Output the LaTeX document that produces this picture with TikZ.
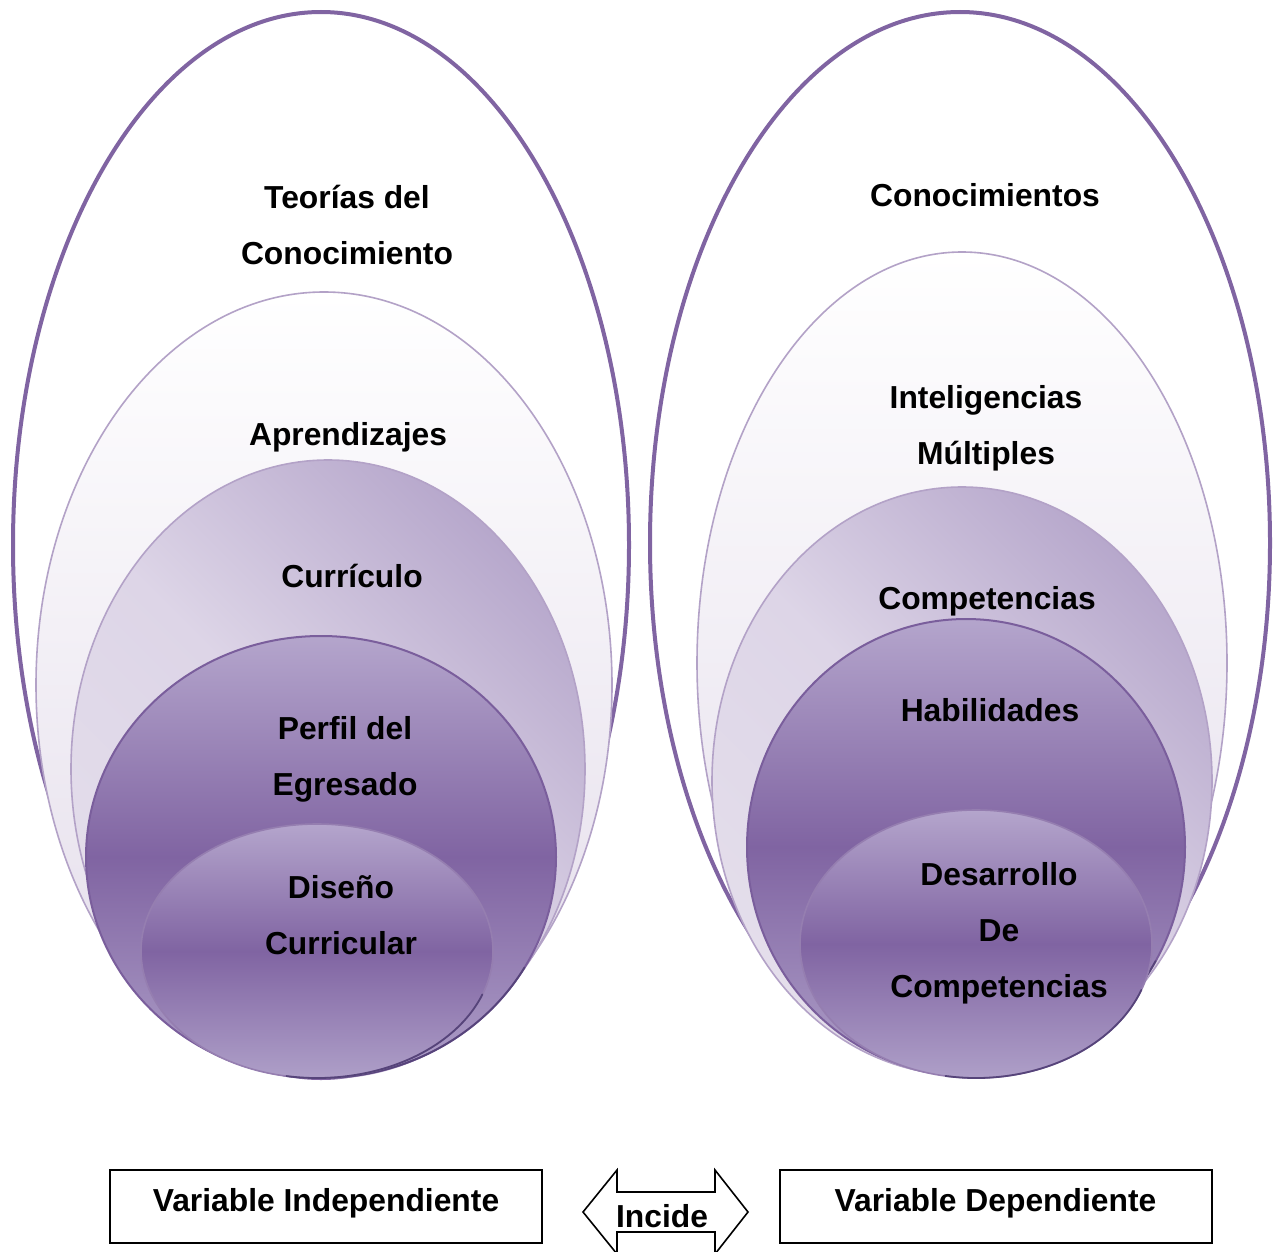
\documentclass[tikz,border=0pt]{standalone}
\usepackage{fontspec}
\setmainfont{Liberation Sans}
\definecolor{vio}{HTML}{8064A2}
\definecolor{vio_line}{HTML}{B3A2C7}
\definecolor{vio_edge}{HTML}{7A5E9C}
\definecolor{vio_rim}{HTML}{56447A}
\definecolor{lav_a}{HTML}{E3DCEA}
\definecolor{lav_b}{HTML}{E4DEEB}
\definecolor{lav_m}{HTML}{DDD5E7}
\definecolor{lav_c}{HTML}{B7A8CC}
\definecolor{vio_top}{HTML}{B4A5CC}
\definecolor{vio_bot}{HTML}{AE9FC8}
\tikzset{
  lbl/.style = {align=center, inner sep=0pt, font=\bfseries\fontsize{15.9}{28}\selectfont},
  ell_a/.style = {draw=vio, line width=2pt, fill=white},
  ell_b/.style = {draw=vio_line, line width=0.8pt, top color=white, bottom color=lav_a},
  ell_c/.style = {draw=vio_line, line width=0.8pt, bottom color=lav_b, top color=lav_c, middle color=lav_m, shading angle=-45},
  ell_d/.style = {draw=vio_edge, line width=1pt, top color=vio_top, bottom color=vio_bot, middle color=vio},
  ell_e/.style = {draw=vio_edge!80, line width=0.8pt, top color=vio_top, bottom color=vio_bot, middle color=vio},
  rim/.style = {draw=vio_rim, line width=0.9pt, line cap=round},
  var_box/.style = {lbl, draw, line width=1pt, minimum width=216pt, minimum height=36.5pt, text height=11.6pt, text depth=6.3pt}
}
\begin{document}
\begin{tikzpicture}[x=0.5pt,y=-0.5pt]
	\clip (0,0) rectangle (1279,1252);
	\draw[ell_a] (321,545) ellipse [x radius=308, y radius=533];
	\draw[ell_b] (324,685) ellipse [x radius=288, y radius=393];
	\draw[ell_c] (328,769) ellipse [x radius=257, y radius=309];
	\draw[ell_d] (321,857) ellipse [x radius=235, y radius=221];
	\draw[rim] (321,857) ++(30:235 and 221) arc [start angle=30, end angle=100, x radius=235, y radius=221];
	\draw[ell_e] (317,951) ellipse [x radius=176, y radius=127];
	\draw[rim] (317,951) ++(20:176 and 127) arc [start angle=20, end angle=100, x radius=176, y radius=127];

	\draw[ell_a] (960,543) ellipse [x radius=310, y radius=531];
	\draw[ell_b] (962,663) ellipse [x radius=265, y radius=411];
	\draw[ell_c] (962,781) ellipse [x radius=250, y radius=294];
	\draw[ell_d] (966,847) ellipse [x radius=219, y radius=228];
	\draw[rim] (966,847) ++(30:219 and 228) arc [start angle=30, end angle=100, x radius=219, y radius=228];
	\draw[ell_e] (976,944) ellipse [x radius=176, y radius=134];
	\draw[rim] (976,944) ++(20:176 and 134) arc [start angle=20, end angle=100, x radius=176, y radius=134];

	\node[lbl] (teorias) at (347,225) {Teorías del\\Conocimiento};
	\node[lbl] (aprend) at (348,437) {Aprendizajes};
	\node[lbl] (curric) at (352,576) {Currículo};
	\node[lbl] (perfil) at (345,759) {Perfil del\\Egresado};
	\node[lbl] (diseno) at (341,915) {Diseño\\Curricular};

	\node[lbl] (conoc) at (985,195) {Conocimientos};
	\node[lbl] (intel) at (986,428) {Inteligencias\\Múltiples};
	\node[lbl] (compet) at (987,601) {Competencias};
	\node[lbl] (habil) at (990,710) {Habilidades};
	\node[lbl] (desarr) at (999,933) {Desarrollo\\De\\Competencias};

	\node[var_box] (v_ind) at (326,1206.5) {Variable Independiente};
	\node[var_box] (v_dep) at (995.5,1206.5) {Variable Dependiente};
	\draw[line width=0.8pt] (583,1212) -- (617,1170) -- (617,1192) -- (715,1192) -- (715,1170)
		-- (748,1212) -- (715,1254) -- (715,1232) -- (617,1232) -- (617,1254) -- cycle;
	\node[lbl] (incide) at (662,1216) {Incide};
\end{tikzpicture}
\end{document}
